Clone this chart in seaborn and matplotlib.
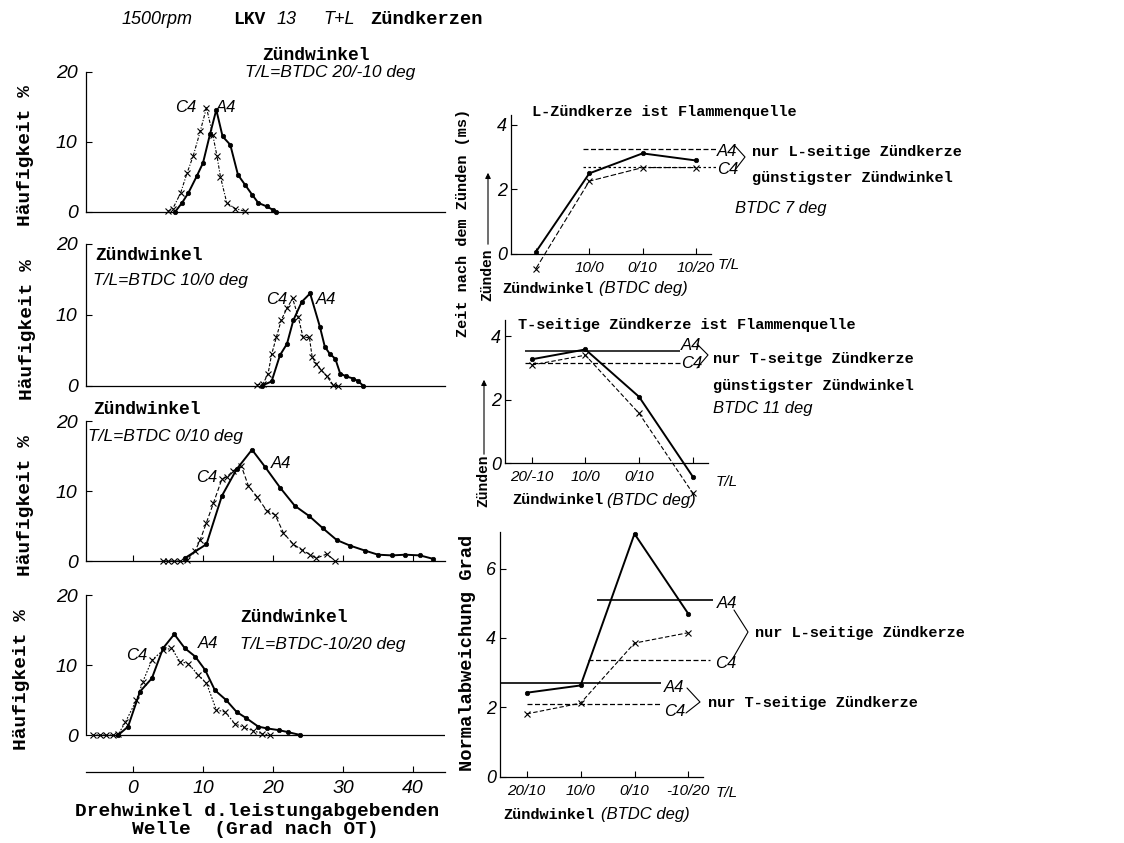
import matplotlib
matplotlib.use("Agg")
import matplotlib.pyplot as plt
import numpy as np
import seaborn as sns

W, H = 1124, 843

# ---- left: Häufigkeit distributions (x = Grad nach OT, y = %) ----
a4_1_x = [6.0, 7.0, 7.9, 9.1, 10.0, 11.0, 11.9, 12.8, 13.9, 15.0, 16.0, 17.0, 17.9, 19.1, 20.0, 20.5]
a4_1_y = [0.0, 1.3, 2.7, 5.1, 7.0, 11.1, 14.6, 10.8, 9.6, 5.3, 3.9, 2.5, 1.3, 0.8, 0.3, 0.0]
c4_1_x = [5.0, 5.7, 6.8, 7.7, 8.6, 9.6, 10.5, 11.4, 12.0, 12.5, 13.4, 14.6, 16.0]
c4_1_y = [0.1, 0.5, 2.7, 5.5, 8.0, 11.5, 14.9, 11.0, 8.0, 5.0, 1.3, 0.5, 0.1]

a4_2_x = [18.4, 19.8, 21.0, 22.0, 22.9, 24.1, 25.3, 26.7, 27.4, 28.1, 28.9, 29.6, 30.5, 31.5, 32.2, 32.9]
a4_2_y = [0.0, 0.6, 4.3, 5.9, 9.2, 11.8, 13.0, 8.3, 5.5, 4.5, 3.8, 1.7, 1.3, 1.0, 0.6, 0.0]
c4_2_x = [17.7, 18.6, 19.3, 19.8, 20.5, 21.2, 22.0, 22.8, 23.6, 24.3, 25.2, 25.6, 26.2, 26.9, 27.7, 28.6, 29.3]
c4_2_y = [0.1, 0.3, 1.7, 4.4, 6.9, 9.3, 10.9, 12.3, 9.7, 6.8, 6.8, 4.0, 3.1, 2.2, 1.3, 0.1, 0.0]

a4_3_x = [7.4, 10.5, 12.7, 14.8, 17.0, 18.9, 21.0, 23.1, 25.2, 27.1, 29.1, 31.0, 33.1, 35.0, 37.0, 38.9, 41.0, 42.9]
a4_3_y = [0.4, 2.4, 9.3, 13.1, 15.9, 13.4, 10.5, 7.9, 6.4, 4.7, 3.0, 2.2, 1.5, 0.9, 0.8, 0.9, 0.8, 0.3]
c4_3_x = [4.3, 5.0, 5.8, 6.7, 7.7, 8.9, 9.6, 10.5, 11.5, 12.7, 13.4, 14.3, 15.5, 16.5, 17.7, 19.1,
          20.3, 21.5, 22.9, 24.1, 25.3, 26.2, 27.7, 28.9]
c4_3_y = [0.0, 0.0, 0.0, 0.0, 0.2, 1.5, 3.0, 5.5, 8.3, 11.7, 12.0, 12.9, 13.5, 10.7, 9.2, 7.2,
          6.6, 4.0, 2.4, 1.6, 0.9, 0.4, 1.0, 0.0]

a4_4_x = [-2.1, -0.7, 1.0, 2.7, 4.3, 5.9, 7.4, 8.9, 10.3, 11.7, 13.3, 14.8, 16.2, 17.9, 19.1, 20.8, 22.2, 23.9]
a4_4_y = [0.0, 1.2, 6.2, 8.1, 12.4, 14.4, 12.4, 11.2, 9.3, 6.4, 5.0, 3.3, 2.4, 1.2, 0.95, 0.7, 0.4, 0.0]
c4_4_x = [-5.7, -4.7, -3.8, -2.8, -2.1, -1.1, 0.5, 1.4, 2.7, 4.3, 5.5, 6.7, 7.9, 9.3, 10.5, 11.9,
          13.1, 14.6, 15.8, 17.2, 18.4, 19.6]
c4_4_y = [0.0, 0.0, 0.0, 0.0, 0.1, 1.8, 5.0, 7.6, 10.7, 12.1, 12.4, 10.5, 10.2, 8.6, 7.4, 3.6,
          3.3, 1.6, 1.1, 0.6, 0.2, 0.0]

left_titles = ["T/L=BTDC 20/-10 deg", "T/L=BTDC 10/0 deg", "T/L=BTDC 0/10 deg", "T/L=BTDC-10/20 deg"]
x_ticks = [0, 10, 20, 30, 40]

# ---- right: Zündwinkel categories ----
cat_pos = [0, 1, 2, 3]
r1_labels = ["", "10/0", "0/10", "10/20"]
r2_labels = ["20/-10", "10/0", "0/10", ""]
r3_labels = ["20/10", "10/0", "0/10", "-10/20"]

# Zeit nach dem Zünden (ms), L-Zündkerze ist Flammenquelle
r1_a4 = [0.07, 2.5, 3.12, 2.9]
r1_c4 = [-0.45, 2.26, 2.68, 2.68]
r1_ref = [3.25, 2.71]          # nur L-seitige: A4, C4

# T-seitige Zündkerze ist Flammenquelle
r2_a4 = [3.27, 3.58, 2.09, -0.42]
r2_c4 = [3.09, 3.40, 1.57, -0.94]
r2_ref = [3.54, 3.16]          # nur T-seitige: A4, C4

# Normalabweichung Grad
r3_a4 = [2.42, 2.63, 7.0, 4.69]
r3_c4 = [1.81, 2.12, 3.85, 4.15]
r3_ref_L = [5.1, 3.35]
r3_ref_T = [2.71, 2.1]

sns.set_theme(style="white")
plt.rcParams["font.family"] = ["DejaVu Sans"]
MONO = "Liberation Mono"
ITAL = "Liberation Sans"

fig = plt.figure(figsize=(W / 100, H / 100), dpi=100)
fig.patch.set_facecolor("white")


def box(left, top, right, bottom):
    return fig.add_axes([left / W, 1 - bottom / H, (right - left) / W, (bottom - top) / H])


def style_ticks(ax, which, size):
    labs = ax.get_yticklabels() if which == "y" else ax.get_xticklabels()
    for lab in labs:
        lab.set_family(ITAL)
        lab.set_style("italic")
        lab.set_fontsize(size)


def a4_line(ax, x, y):
    sns.lineplot(x=x, y=y, ax=ax, color="black", lw=1.4, marker="o", markersize=3.2,
                 markeredgecolor="black", markeredgewidth=0.5, sort=False, estimator=None, clip_on=False)


def c4_line(ax, x, y, ls=(0, (4, 2))):
    sns.lineplot(x=x, y=y, ax=ax, color="black", lw=0.8, linestyle=ls, marker="x", markersize=4,
                 markeredgecolor="black", markeredgewidth=0.8, sort=False, estimator=None, clip_on=False)


# ---- left panels ----
xlim = (-6.71, 44.57)
panels = [
    (212.0, 7.0, -1.0, a4_1_x, a4_1_y, c4_1_x, c4_1_y, (0, (3, 1.5, 1, 1.5))),
    (385.7, 7.1, -1.0, a4_2_x, a4_2_y, c4_2_x, c4_2_y, (0, (3, 1.5))),
    (561.0, 7.0, -1.0, a4_3_x, a4_3_y, c4_3_x, c4_3_y, (0, (4, 2))),
    (735.0, 7.0, -5.3, a4_4_x, a4_4_y, c4_4_x, c4_4_y, (0, (1.5, 1.5))),
]
for i, (y0, s, ymin, ax_, ay_, cx_, cy_, ls) in enumerate(panels):
    ytop = 20.5
    ax = box(86, y0 - ytop * s, 445, y0 - ymin * s)
    ax.set_facecolor("none")
    ax.set_xlim(*xlim)
    ax.set_ylim(ymin, ytop)
    c4_line(ax, cx_, cy_, ls)
    a4_line(ax, ax_, ay_)
    for sp in ["top", "right"]:
        ax.spines[sp].set_visible(False)
    ax.spines["left"].set_bounds(0, 20)
    ax.spines["left"].set_color("black")
    ax.spines["left"].set_linewidth(0.9)
    ax.set_yticks([0, 10, 20])
    ax.set_yticklabels(["0", "10", "20"])
    ax.tick_params(axis="y", direction="in", length=4, width=0.8, left=True, pad=6, colors="black")
    style_ticks(ax, "y", 14)
    ax.set_xlabel("")
    ax.set_ylabel("")
    ax.spines["bottom"].set_color("black")
    ax.spines["bottom"].set_linewidth(0.9)
    if i < 3:
        ax.spines["bottom"].set_position(("data", 0))
        ax.set_xticks(x_ticks)
        ax.tick_params(axis="x", direction="in", length=4 if i == 2 else 0, width=0.8,
                       bottom=True, labelbottom=False, colors="black")
    else:
        ax.axhline(0, color="black", lw=0.9, xmin=0.02)
        ax.set_xticks(x_ticks)
        ax.set_xticklabels([str(t) for t in x_ticks])
        ax.tick_params(axis="x", direction="in", length=4, width=0.8, bottom=True, pad=6,
                       colors="black")
        style_ticks(ax, "x", 14)


# ---- right panels ----
def right_axes(left, right, cat0_px, step, y0, s, ymin, ymax, labels, yticks):
    ax = box(left, y0 - ymax * s, right, y0 - ymin * s)
    ax.set_facecolor("none")
    ax.set_xlim((left - cat0_px) / step, (right - cat0_px) / step)
    ax.set_ylim(ymin, ymax)
    for sp in ["top", "right"]:
        ax.spines[sp].set_visible(False)
    for sp in ["left", "bottom"]:
        ax.spines[sp].set_color("black")
        ax.spines[sp].set_linewidth(0.9)
    ax.spines["bottom"].set_position(("data", 0))
    ax.spines["left"].set_bounds(0, ymax)
    ax.set_xticks(cat_pos)
    ax.set_xticklabels(labels)
    ax.set_yticks(yticks)
    ax.set_yticklabels([str(t) for t in yticks])
    ax.tick_params(axis="x", direction="in", length=4, width=0.8, bottom=True, colors="black", pad=5)
    ax.tick_params(axis="y", direction="in", length=4, width=0.8, left=True, colors="black", pad=3)
    style_ticks(ax, "x", 11)
    style_ticks(ax, "y", 13)
    return ax


r1 = right_axes(511, 711, 536, 53.3, 254.0, 32.25, -0.7, 4.3, r1_labels, [0, 2, 4])
c4_line(r1, cat_pos, r1_c4, (0, (5, 2)))
a4_line(r1, cat_pos, r1_a4)
r1.hlines(r1_ref[0], 0.88, 3.39, color="black", lw=0.9, linestyle=(0, (4, 2)), clip_on=False)
r1.hlines(r1_ref[1], 0.88, 3.39, color="black", lw=0.9, linestyle=(0, (2, 2)), clip_on=False)

r2 = right_axes(505, 708.4, 531.7, 53.7, 463.3, 31.8, -1.1, 4.5, r2_labels, [0, 2, 4])
c4_line(r2, cat_pos, r2_c4, (0, (4, 2)))
a4_line(r2, cat_pos, r2_a4)
r2.hlines(r2_ref[0], -0.12, 2.76, color="black", lw=1.1, clip_on=False)
r2.hlines(r2_ref[1], -0.12, 2.76, color="black", lw=0.9, linestyle=(0, (4, 2)), clip_on=False)

r3 = right_axes(500, 703.3, 526.7, 53.9, 776.7, 34.7, -0.2, 7.05, r3_labels, [0, 2, 4, 6])
c4_line(r3, cat_pos, r3_c4, (0, (4, 2)))
a4_line(r3, cat_pos, r3_a4)
r3.hlines(r3_ref_L[0], 1.30, 3.46, color="black", lw=1.2, clip_on=False)
r3.hlines(r3_ref_L[1], 1.14, 3.40, color="black", lw=0.9, linestyle=(0, (4, 2)), clip_on=False)
r3.hlines(r3_ref_T[0], -0.5, 2.5, color="black", lw=1.2, clip_on=False)
r3.hlines(r3_ref_T[1], 0.0, 2.47, color="black", lw=0.9, linestyle=(0, (4, 2)), clip_on=False)
for a in (r1, r2, r3):
    a.set_xlabel("")
    a.set_ylabel("")

# ---- overlay for texts in pixel coordinates ----
ov = fig.add_axes([0, 0, 1, 1], zorder=10)
ov.set_xlim(0, W)
ov.set_ylim(H, 0)
ov.axis("off")


def mono(x, y, s, size=11, **kw):
    kw.setdefault("va", "center")
    ov.text(x, y, s, family=MONO, weight="bold", size=size, color="black", **kw)


def ital(x, y, s, size=12, **kw):
    kw.setdefault("va", "center")
    ov.text(x, y, s, family=ITAL, style="italic", size=size, color="black", **kw)


# header
ital(122, 20, "1500rpm", size=13)
mono(233, 20, "LKV", size=13)
ital(277, 20, "13", size=13)
ital(323, 20, "T+L", size=13)
mono(370, 20, "Zündkerzen", size=13.5)

# left panel titles and curve labels
mono(262, 56, "Zündwinkel", size=13)
ital(245, 72, left_titles[0], size=12.5)
mono(95, 255, "Zündwinkel", size=13)
ital(93, 280, left_titles[1], size=12.5)
mono(93, 410, "Zündwinkel", size=13)
ital(88, 437, left_titles[2], size=12.5)
mono(240, 618, "Zündwinkel", size=13)
ital(240, 645, left_titles[3], size=12.5)
for (cx, cy), (ax_, ay_) in [((186, 107), (226, 107)), ((277, 300), (326, 300)),
                             ((207, 477), (281, 463)), ((137, 655), (208, 643))]:
    ital(cx, cy, "C4", size=12, ha="center")
    ital(ax_, ay_, "A4", size=12, ha="center")

for yc, xc in [(156, 25), (329, 28), (505, 25), (679, 22)]:
    mono(xc, yc, "Häufigkeit %", size=14, rotation=90, ha="center")

mono(257, 811, "Drehwinkel d.leistungabgebenden", size=14, ha="center")
mono(255, 830, "Welle  (Grad nach OT)", size=14, ha="center")

# right panel texts
mono(532, 112, "L-Zündkerze ist Flammenquelle", size=11)
mono(518, 325, "T-seitige Zündkerze ist Flammenquelle", size=11)

mono(502, 289, "Zündwinkel", size=11)
ital(599, 289, "(BTDC deg)", size=12)
ital(718, 265, "T/L", size=11)
mono(512, 500, "Zündwinkel", size=11)
ital(607, 500, "(BTDC deg)", size=12)
ital(716, 482, "T/L", size=11)
mono(503, 815, "Zündwinkel", size=11)
ital(601, 815, "(BTDC deg)", size=12)
ital(716, 793, "T/L", size=11)

ital(717, 151, "A4", size=12)
ital(717, 169, "C4", size=12)
ov.plot([735, 745, 735], [146, 157, 170], color="black", lw=0.8)
mono(752, 152, "nur L-seitige Zündkerze", size=11)
mono(752, 178, "günstigster Zündwinkel", size=11)
ital(735, 208, "BTDC 7 deg", size=12)

ital(681, 346, "A4", size=12)
ital(681, 364, "C4", size=12)
ov.plot([697, 708, 697], [344, 355, 368], color="black", lw=0.8)
mono(713, 359, "nur T-seitge Zündkerze", size=11)
mono(713, 386, "günstigster Zündwinkel", size=11)
ital(713, 409, "BTDC 11 deg", size=12)

ital(717, 604, "A4", size=12)
ital(715, 663, "C4", size=12)
ov.plot([734, 748, 733], [610, 632, 658], color="black", lw=0.8)
mono(755, 633, "nur L-seitige Zündkerze", size=11)
ital(664, 688, "A4", size=12)
ital(664, 712, "C4", size=12)
ov.plot([687, 700, 686], [688, 702, 713], color="black", lw=0.8)
mono(708, 703, "nur T-seitige Zündkerze", size=11)

mono(463, 223, "Zeit nach dem Zünden (ms)", size=11, rotation=90, ha="center")
mono(467, 653, "Normalabweichung Grad", size=13.5, rotation=90, ha="center")
for ytxt, ya, yb, xz in [(275, 247, 170, 487), (481, 457, 377, 483)]:
    mono(xz, ytxt, "Zünden", size=10.5, rotation=90, ha="center")
    ov.annotate("", xy=(xz + 1, yb), xytext=(xz + 1, ya),
                arrowprops=dict(arrowstyle="-|>", lw=0.8, color="black", mutation_scale=8))

fig.savefig("out.png", dpi=100, facecolor="white")
